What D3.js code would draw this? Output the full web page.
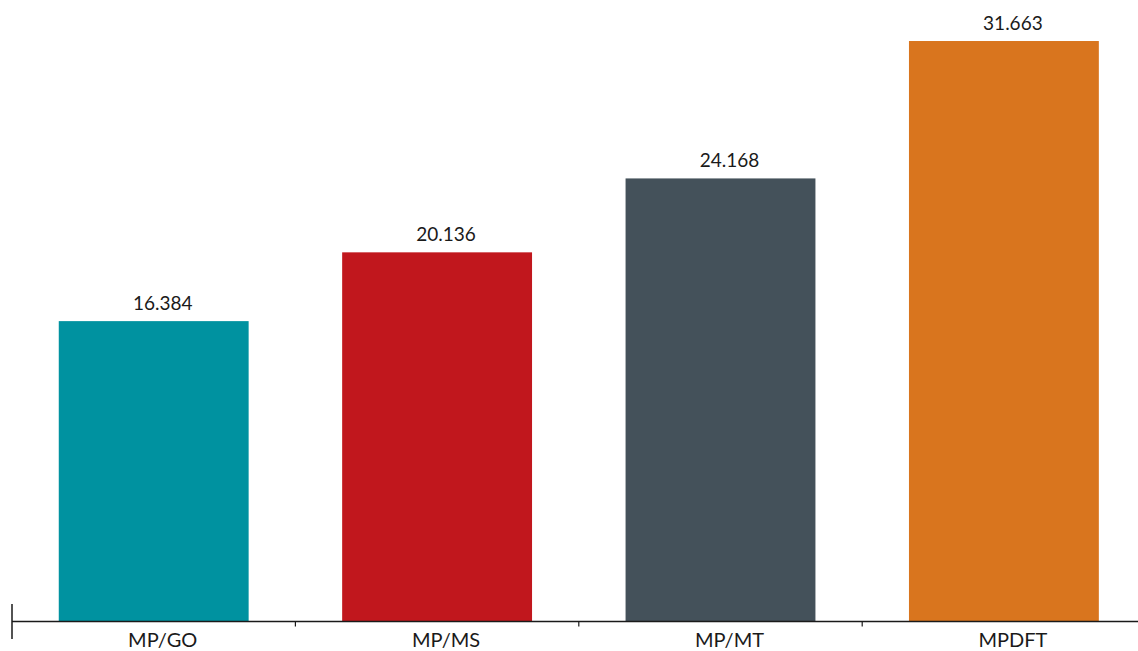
<!DOCTYPE html>
<html>
<head>
<meta charset="utf-8">
<script src="https://cdn.jsdelivr.net/npm/d3@7"></script>
<style>
  html, body { margin: 0; padding: 0; background: #fff; }
  svg { display: block; }
  text { font-family: Lato, "Open Sans", sans-serif; fill: #1a1a1a; }
</style>
</head>
<body>
<svg id="chart" width="1138" height="651"></svg>
<script>
const categories = ["MP/GO", "MP/MS", "MP/MT", "MPDFT"];
const values = [16.384, 20.136, 24.168, 31.663];
const colors = ["#0092A0", "#C1171D", "#44515A", "#D9751E"];

const svg = d3.select("#chart");
const baseY = 621.5;
const left = 12;

const x = d3.scaleBand()
  .domain(categories)
  .range([left, 1145.6])
  .paddingInner(0.33)
  .paddingOuter(0.165);

const y = d3.scaleLinear()
  .domain([0, 33.9])
  .range([baseY, 0]);

// bars
svg.append("g").selectAll("rect")
  .data(categories)
  .join("rect")
  .attr("x", d => x(d))
  .attr("width", x.bandwidth())
  .attr("y", (d, i) => y(values[i]))
  .attr("height", (d, i) => baseY - y(values[i]))
  .attr("fill", (d, i) => colors[i]);

// value labels
svg.append("g").selectAll("text")
  .data(categories)
  .join("text")
  .attr("x", d => x(d) + x.bandwidth() / 2 + 9)
  .attr("y", (d, i) => y(values[i]) - 11)
  .attr("text-anchor", "middle")
  .attr("font-size", 19)
  .text((d, i) => values[i].toFixed(3));

// x axis line
svg.append("line")
  .attr("x1", left).attr("x2", 1138)
  .attr("y1", baseY).attr("y2", baseY)
  .attr("stroke", "#1a1a1a").attr("stroke-width", 1.5);

// left vertical line
svg.append("line")
  .attr("x1", left).attr("x2", left)
  .attr("y1", 604).attr("y2", 639)
  .attr("stroke", "#1a1a1a").attr("stroke-width", 1.5);

// boundary ticks between bands
const step = x.step();
svg.append("g").selectAll("line")
  .data(categories.slice(1))
  .join("line")
  .attr("x1", d => x(d) - step * x.paddingInner() / 2)
  .attr("x2", d => x(d) - step * x.paddingInner() / 2)
  .attr("y1", baseY).attr("y2", baseY + 5)
  .attr("stroke", "#1a1a1a").attr("stroke-width", 1.2);

// category labels
svg.append("g").selectAll("text")
  .data(categories)
  .join("text")
  .attr("x", d => x(d) + x.bandwidth() / 2 + 9)
  .attr("y", baseY + 25.5)
  .attr("text-anchor", "middle")
  .attr("font-size", 20)
  .text(d => d);
</script>
</body>
</html>
